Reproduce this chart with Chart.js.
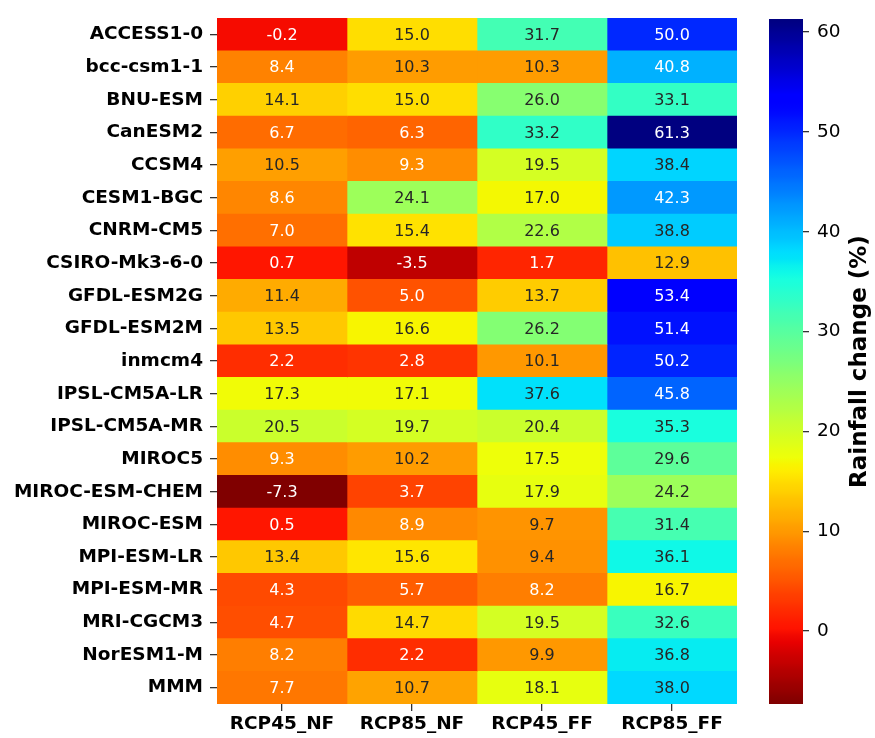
<!DOCTYPE html>
<html>
<head>
<meta charset="utf-8">
<script src="https://cdn.jsdelivr.net/npm/chart.js@4.4.1/dist/chart.umd.min.js"></script>
<style>
    body { margin: 0; background: #fff; }
    canvas { position: absolute; left: 0; top: 0; }
</style>
</head>
<body>
<canvas id="mapa" width="875" height="738"></canvas>
<canvas id="barra" width="875" height="738"></canvas>
<script>
const modelos = ['ACCESS1-0', 'bcc-csm1-1', 'BNU-ESM', 'CanESM2', 'CCSM4', 'CESM1-BGC', 'CNRM-CM5',
    'CSIRO-Mk3-6-0', 'GFDL-ESM2G', 'GFDL-ESM2M', 'inmcm4', 'IPSL-CM5A-LR', 'IPSL-CM5A-MR', 'MIROC5',
    'MIROC-ESM-CHEM', 'MIROC-ESM', 'MPI-ESM-LR', 'MPI-ESM-MR', 'MRI-CGCM3', 'NorESM1-M', 'MMM'];
const cenarios = ['RCP45_NF', 'RCP85_NF', 'RCP45_FF', 'RCP85_FF'];

const rcp45NF = [-0.2, 8.4, 14.1, 6.7, 10.5, 8.6, 7.0, 0.7, 11.4, 13.5, 2.2, 17.3, 20.5, 9.3, -7.3, 0.5, 13.4, 4.3, 4.7, 8.2, 7.7];
const rcp85NF = [15.0, 10.3, 15.0, 6.3, 9.3, 24.1, 15.4, -3.5, 5.0, 16.6, 2.8, 17.1, 19.7, 10.2, 3.7, 8.9, 15.6, 5.7, 14.7, 2.2, 10.7];
const rcp45FF = [31.7, 10.3, 26.0, 33.2, 19.5, 17.0, 22.6, 1.7, 13.7, 26.2, 10.1, 37.6, 20.4, 17.5, 17.9, 9.7, 9.4, 8.2, 19.5, 9.9, 18.1];
const rcp85FF = [50.0, 40.8, 33.1, 61.3, 38.4, 42.3, 38.8, 12.9, 53.4, 51.4, 50.2, 45.8, 35.3, 29.6, 24.2, 31.4, 36.1, 16.7, 32.6, 36.8, 38.0];
const ticksBarra = [0, 10, 20, 30, 40, 50, 60];

const colunas = [rcp45NF, rcp85NF, rcp45FF, rcp85FF];
const todos = colunas.flat();
const vmin = Math.min(...todos);
const vmax = Math.max(...todos);

// jet do matplotlib, invertido (jet_r)
function jet(t) {
    let r, g, b;
    if (t < 0.35) r = 0; else if (t < 0.66) r = (t - 0.35) / 0.31; else if (t < 0.89) r = 1; else r = 1 - 0.5 * (t - 0.89) / 0.11;
    if (t < 0.125) g = 0; else if (t < 0.375) g = (t - 0.125) / 0.25; else if (t < 0.64) g = 1; else if (t < 0.91) g = 1 - (t - 0.64) / 0.27; else g = 0;
    if (t < 0.11) b = 0.5 + 0.5 * t / 0.11; else if (t < 0.34) b = 1; else if (t < 0.65) b = 1 - (t - 0.34) / 0.31; else b = 0;
    return [r, g, b];
}
function corRgb(v) {
    let t = (v - vmin) / (vmax - vmin);
    t = Math.min(255, Math.max(0, Math.floor(t * 256))) / 255;
    return jet(1 - t);
}
function css(rgb) {
    return 'rgb(' + rgb.map(c => Math.round(c * 255)).join(',') + ')';
}
function luminancia(rgb) {
    const lin = rgb.map(c => c <= 0.03928 ? c / 12.92 : Math.pow((c + 0.055) / 1.055, 2.4));
    return 0.2126 * lin[0] + 0.7152 * lin[1] + 0.0722 * lin[2];
}

const fonte = 'DejaVu Sans';

document.addEventListener("DOMContentLoaded", function (e) {

    const rotulos = {
        id: 'rotulos',
        afterDatasetsDraw(chart) {
            const ctx = chart.ctx;
            ctx.save();
            ctx.font = '16px "' + fonte + '"';
            ctx.textAlign = 'center';
            ctx.textBaseline = 'middle';
            chart.data.datasets.forEach((ds, i) => {
                chart.getDatasetMeta(i).data.forEach((el, j) => {
                    const v = colunas[i][j];
                    ctx.fillStyle = luminancia(corRgb(v)) > 0.408 ? 'rgb(38,38,38)' : '#fff';
                    ctx.fillText(v.toFixed(1), (el.x + el.base) / 2, el.y + 1);
                });
            });
            ctx.restore();
        }
    };

    const mapa = new Chart(document.querySelector("#mapa"), {
        type: "bar",
        data: {
            labels: modelos,
            datasets: colunas.map((col, i) => ({
                label: cenarios[i],
                data: col.map(() => 1),
                backgroundColor: col.map(v => css(corRgb(v))),
                borderWidth: 0,
                barPercentage: 1,
                categoryPercentage: 1
            }))
        },
        options: {
            indexAxis: 'y',
            responsive: false,
            animation: false,
            events: [],
            layout: { padding: { top: 16, right: 138, left: 0, bottom: 0 } },
            plugins: { legend: { display: false }, tooltip: { enabled: false } },
            scales: {
                x: {
                    type: 'linear',
                    stacked: true,
                    min: 0,
                    max: 4,
                    afterBuildTicks: (s) => { s.ticks = cenarios.map((c, i) => ({ value: i + 0.5 })); },
                    afterFit: (s) => { s.height = 34; },
                    ticks: {
                        callback: (v, i) => cenarios[i],
                        font: { family: fonte, size: 18.5, weight: 'bold' },
                        color: '#000',
                        padding: 2,
                        maxRotation: 0
                    },
                    grid: { drawOnChartArea: false, tickLength: 7, color: '#333', lineWidth: 1.3 },
                    border: { display: false }
                },
                y: {
                    stacked: true,
                    afterFit: (s) => { s.width = 217; },
                    ticks: {
                        font: { family: fonte, size: 18.5, weight: 'bold' },
                        color: '#000',
                        padding: 7
                    },
                    grid: { drawOnChartArea: false, offset: false, tickLength: 7, color: '#333', lineWidth: 1.3 },
                    border: { display: false }
                }
            }
        },
        plugins: [rotulos]
    });

    const tituloBarra = {
        id: 'tituloBarra',
        afterDraw(chart) {
            const ctx = chart.ctx;
            const a = chart.chartArea;
            ctx.save();
            ctx.translate(860, (a.top + a.bottom) / 2);
            ctx.rotate(-Math.PI / 2);
            ctx.font = 'bold 23px "' + fonte + '"';
            ctx.fillStyle = '#000';
            ctx.textAlign = 'center';
            ctx.textBaseline = 'middle';
            ctx.fillText('Rainfall change (%)', 0, 0);
            ctx.restore();
        }
    };

    const barra = new Chart(document.querySelector("#barra"), {
        type: "bar",
        data: {
            labels: [''],
            datasets: [{
                data: [[vmin, vmax]],
                borderWidth: 0,
                barPercentage: 1,
                categoryPercentage: 1,
                borderSkipped: false,
                backgroundColor: (c) => {
                    const a = c.chart.chartArea;
                    if (!a) return '#fff';
                    const gr = c.chart.ctx.createLinearGradient(0, a.bottom, 0, a.top);
                    for (let k = 0; k <= 100; k++) {
                        gr.addColorStop(k / 100, css(corRgb(vmin + (vmax - vmin) * k / 100)));
                    }
                    return gr;
                }
            }]
        },
        options: {
            responsive: false,
            animation: false,
            events: [],
            layout: { padding: { top: 16, bottom: 34, left: 769, right: 12 } },
            plugins: { legend: { display: false }, tooltip: { enabled: false } },
            scales: {
                x: { display: false },
                y: {
                    position: 'right',
                    min: vmin,
                    max: vmax,
                    afterBuildTicks: (s) => { s.ticks = ticksBarra.map(v => ({ value: v })); },
                    afterFit: (s) => { s.width = 60; },
                    ticks: {
                        font: { family: fonte, size: 18.5 },
                        color: '#000',
                        padding: 8
                    },
                    grid: { drawOnChartArea: false, tickLength: 6, color: '#333', lineWidth: 1.3 },
                    border: { display: false }
                }
            }
        },
        plugins: [tituloBarra]
    });

});
</script>
</body>
</html>
